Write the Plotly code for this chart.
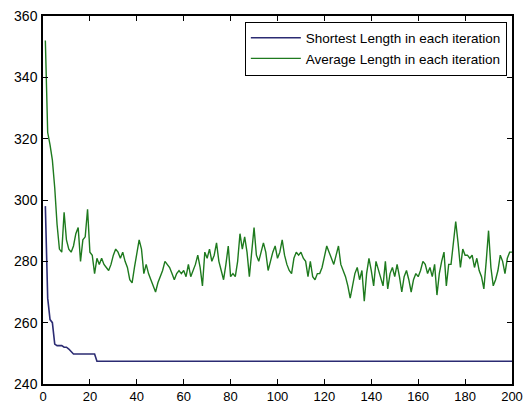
import plotly.graph_objects as go

iterations = list(range(1, 201))

shortest_length = [298, 268, 261, 260, 253, 252.5, 252.5, 252.5, 252, 252,
                   251.4, 250.5] + [249.8] * 10 + [247.4] * 178

average_length = [
    352, 322, 318, 313, 304, 292, 284, 283, 296, 287,
    284, 283, 285, 289, 291, 280, 287, 288, 297, 283,
    282, 276, 281, 279, 281, 279, 278, 277, 279, 282,
    284, 283, 281, 283, 280, 278, 274, 273, 278, 282,
    287, 284, 276, 279, 276, 274, 272, 270, 273, 275,
    277, 280, 279, 278, 276, 274, 276, 277, 276, 277,
    275, 279, 275, 277, 279, 282, 278, 272, 283, 281,
    284, 280, 282, 286, 280, 277, 274, 279, 285, 275,
    276, 275, 280, 289, 284, 288, 283, 275, 283, 291,
    282, 280, 283, 286, 283, 277, 280, 283, 285, 281,
    283, 287, 282, 279, 277, 276, 281, 283, 282, 283,
    281, 280, 275, 280, 275, 274, 276, 276, 278, 281,
    285, 283, 281, 279, 282, 285, 279, 277, 275, 272,
    268, 272, 276, 278, 274, 277, 267, 276, 281, 277,
    272, 280, 277, 275, 272, 280, 271, 276, 278, 275,
    279, 275, 270, 275, 277, 274, 270, 274, 276, 275,
    277, 280, 279, 276, 278, 275, 279, 269, 276, 280,
    283, 272, 279, 279, 286, 293, 286, 278, 284, 282,
    282, 281, 282, 278, 281, 277, 275, 271, 280, 290,
    278, 272, 274, 277, 282, 280, 276, 281, 283, 283,
]

x_ticks = [0, 20, 40, 60, 80, 100, 120, 140, 160, 180, 200]
y_ticks = [240, 260, 280, 300, 320, 340, 360]

fig = go.Figure()
fig.add_trace(go.Scatter(x=iterations, y=shortest_length, mode="lines",
                         name="Shortest Length in each iteration",
                         line=dict(color="#2b2b72", width=1.6)))
fig.add_trace(go.Scatter(x=iterations, y=average_length, mode="lines",
                         name="Average Length in each iteration",
                         line=dict(color="#1e7a1e", width=1.4)))

axis_common = dict(showline=True, linecolor="black", linewidth=1.5, mirror="allticks",
                   ticks="inside", ticklen=5, tickcolor="black", tickwidth=1.2,
                   showgrid=False, zeroline=False, automargin=False)

fig.update_layout(
    width=528, height=405,
    margin=dict(l=43, r=16, t=16, b=21),
    paper_bgcolor="white", plot_bgcolor="white",
    xaxis=dict(range=[0, 200], tickvals=x_ticks, ticklabelstandoff=0,
               tickfont=dict(family="Liberation Sans, Arial", size=13, color="black"),
               **axis_common),
    yaxis=dict(range=[240, 360], tickvals=y_ticks, ticklabelstandoff=1,
               tickfont=dict(family="Liberation Sans, Arial", size=14, color="black"),
               **axis_common),
    legend=dict(x=0.989, y=0.985, xanchor="right", yanchor="top",
                bgcolor="white", bordercolor="black", borderwidth=1,
                font=dict(family="Liberation Sans, Arial", size=13.5, color="black"),
                itemwidth=50, tracegroupgap=0),
    showlegend=True,
)

fig.write_html("out.html")
